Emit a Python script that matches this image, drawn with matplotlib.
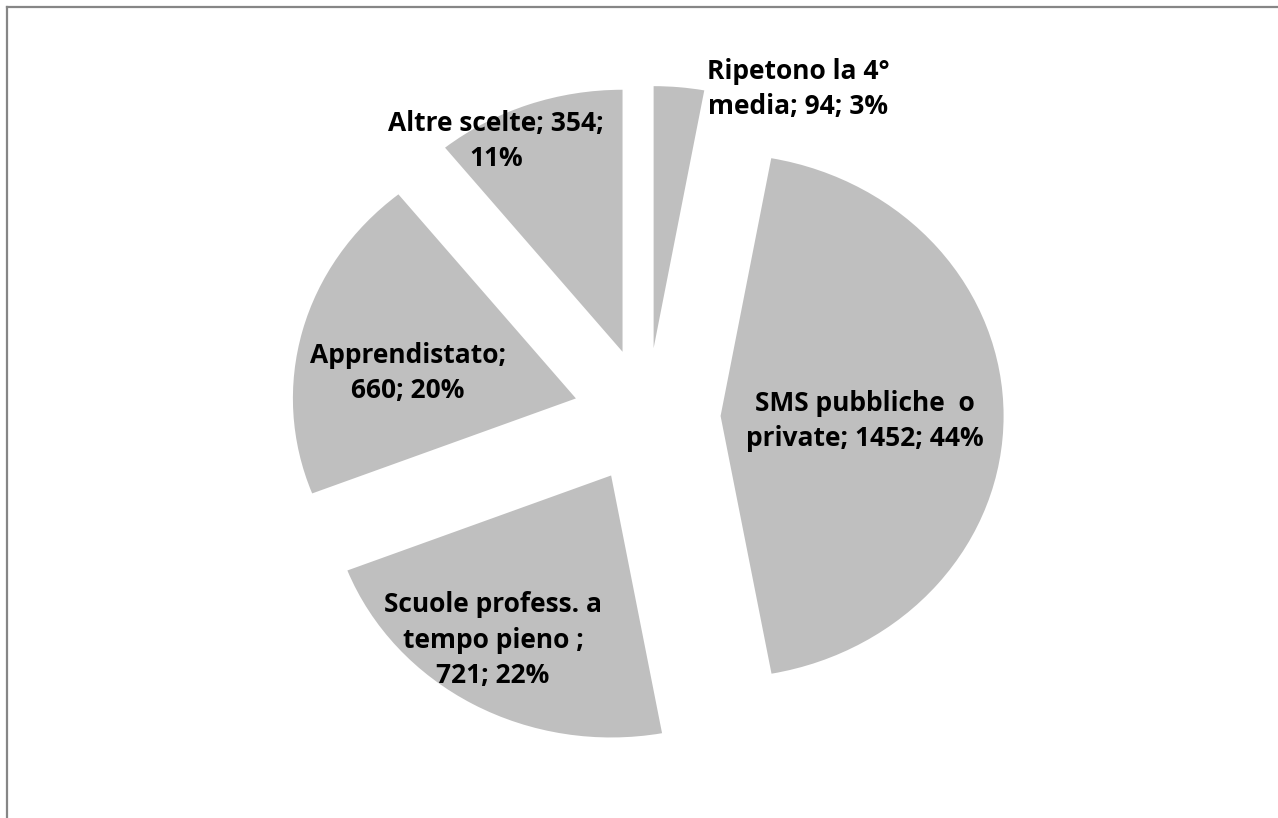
import numpy as np
import matplotlib
matplotlib.use("Agg")
import matplotlib.pyplot as plt
from matplotlib.lines import Line2D

# dati
categorie = ["Ripetono la 4°\nmedia", "SMS pubbliche  o\nprivate",
             "Scuole profess. a\ntempo pieno ", "Apprendistato", "Altre scelte"]
valori = [94, 1452, 721, 660, 354]
# separatori dopo il nome e dopo il valore (dove Excel va a capo)
sep_nome = ["; ", "; ", ";\n", ";\n", "; "]
sep_val = ["; ", "; ", "; ", "; ", ";\n"]

totale = sum(valori)
percentuali = [round(v / totale * 100) for v in valori]
etichette = [c + s1 + str(v) + s2 + str(p) + "%"
             for c, s1, v, s2, p in zip(categorie, sep_nome, valori, sep_val, percentuali)]

# posizione del centro delle etichette (pixel dell'immagine)
pos_etichette = [(798, 89), (865, 421), (493, 640), (408, 373), (496, 141)]

W, H = 1278, 818
cx, cy = 647, 416      # centro torta in pixel
rx, ry = 283, 262      # raggio orizzontale / verticale in pixel

fig = plt.figure(figsize=(W / 100, H / 100), dpi=100)
ax = fig.add_axes([0, 0, 1, 1])
ax.pie(valori, startangle=90, counterclock=False, colors=["#BFBFBF"] * 5,
       explode=[0.26] * 5, wedgeprops=dict(linewidth=0))
ax.set_aspect("auto")
ax.set_xlim(-cx / rx, (W - cx) / rx)
ax.set_ylim(-(H - cy) / ry, cy / ry)
ax.axis("off")

for testo, (px, py) in zip(etichette, pos_etichette):
    ax.text((px - cx) / rx, (cy - py) / ry, testo, ha="center", va="center",
            fontsize=19, fontweight="bold", family=["Open Sans", "DejaVu Sans"],
            color="black", linespacing=1.4)

# cornice grigia
x0 = 7 / W
y0 = 1 - 7 / H
fig.add_artist(Line2D([x0, x0], [0, y0], color="#868686", lw=1.6))
fig.add_artist(Line2D([x0, 1], [y0, y0], color="#868686", lw=1.6))

fig.savefig("out.png", dpi=100)
